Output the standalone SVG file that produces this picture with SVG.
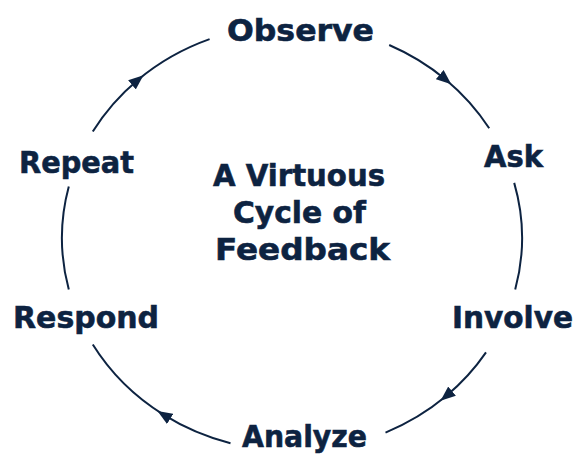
<svg xmlns="http://www.w3.org/2000/svg" width="586" height="473" viewBox="0 0 586 473">
<style>
.lbl{font-family:"DejaVu Sans","Liberation Sans",sans-serif;font-weight:bold;font-size:31px;fill:#0d2341;stroke:#0d2341;stroke-width:0.6px}
.arc{fill:none;stroke:#0d2341;stroke-width:2}
</style>
<defs>
<marker id="ah" viewBox="0 0 15 12" refX="8" refY="6" markerWidth="15" markerHeight="12" markerUnits="userSpaceOnUse" orient="auto">
<path d="M0,0 L15,6 L0,12 Z" fill="#0d2341"/>
</marker>
</defs>
<rect width="586" height="473" fill="#ffffff"/>
<g id="connectors">
<path class="arc" marker-mid="url(#ah)" d="M389.2,45 A230,213 0 0 1 445.9,79.7 A230,213 0 0 1 489.2,128.3"/>
<path class="arc" d="M514.2,182.9 A230,213 0 0 1 515.2,289.5"/>
<path class="arc" marker-mid="url(#ah)" d="M486,352.4 A230,213 0 0 1 445.9,396.3 A230,213 0 0 1 385.5,432.6"/>
<path class="arc" marker-mid="url(#ah)" d="M230.5,443.2 A230,213 0 0 1 163.4,414.6 A230,213 0 0 1 92.8,344.5"/>
<path class="arc" d="M68.8,289.5 A230,213 0 0 1 68.8,186.5"/>
<path class="arc" marker-mid="url(#ah)" d="M92.8,131.5 A230,213 0 0 1 138.1,79.7 A230,213 0 0 1 209.6,39.1"/>
</g>
<g id="observe"><text class="lbl" x="227" y="41" textLength="147" lengthAdjust="spacingAndGlyphs">Observe</text></g>
<g id="ask"><text class="lbl" x="484" y="167" textLength="59" lengthAdjust="spacingAndGlyphs">Ask</text></g>
<g id="involve"><text class="lbl" x="452" y="328" textLength="121" lengthAdjust="spacingAndGlyphs">Involve</text></g>
<g id="analyze"><text class="lbl" x="242" y="447" textLength="125" lengthAdjust="spacingAndGlyphs">Analyze</text></g>
<g id="respond"><text class="lbl" x="13" y="328" textLength="146" lengthAdjust="spacingAndGlyphs">Respond</text></g>
<g id="repeat"><text class="lbl" x="19" y="173" textLength="115" lengthAdjust="spacingAndGlyphs">Repeat</text></g>
<g id="center">
<text class="lbl" x="213" y="186" textLength="172" lengthAdjust="spacingAndGlyphs">A Virtuous</text>
<text class="lbl" x="233" y="223" textLength="133" lengthAdjust="spacingAndGlyphs">Cycle of</text>
<text class="lbl" x="215" y="260" textLength="175" lengthAdjust="spacingAndGlyphs">Feedback</text>
</g>
</svg>
